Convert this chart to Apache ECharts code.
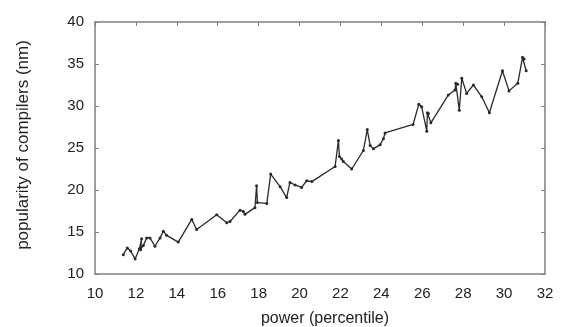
<!DOCTYPE html>
<html>
<head>
<meta charset="utf-8">
<script src="https://cdn.jsdelivr.net/npm/echarts@6/dist/echarts.min.js"></script>
<style>html,body{margin:0;padding:0;background:#fff}#c{width:562px;height:327px}</style>
</head>
<body>
<div id="c"></div>
<script>
const xTicks = [10,12,14,16,18,20,22,24,26,28,30,32];
const yTicks = [10,15,20,25,30,35,40];
const powerX = [11.38,11.58,11.74,11.96,12.17,12.28,12.23,12.36,12.53,12.69,12.93,13.18,13.34,13.5,14.07,14.73,14.97,15.95,16.44,16.6,17.09,17.25,17.33,17.82,17.9,17.94,18.4,18.59,19.05,19.37,19.53,19.78,20.1,20.35,20.6,21.74,21.9,21.95,22.06,22.14,22.55,23.12,23.31,23.45,23.61,23.94,24.1,24.18,25.55,25.83,25.97,26.22,26.25,26.3,26.42,27.27,27.6,27.64,27.73,27.81,27.93,28.17,28.5,28.91,29.28,29.92,30.24,30.67,30.9,30.98,31.08];
const popularity = [12.3,13.1,12.75,11.8,13.0,14.2,12.9,13.4,14.3,14.3,13.3,14.3,15.1,14.6,13.8,16.5,15.3,17.05,16.1,16.25,17.6,17.45,17.1,17.9,20.5,18.5,18.4,21.9,20.4,19.1,20.9,20.6,20.3,21.1,21.0,22.8,25.9,24.0,23.7,23.4,22.5,24.7,27.2,25.3,24.9,25.4,26.1,26.8,27.8,30.2,29.9,27.0,29.2,29.1,28.0,31.3,31.9,32.7,32.6,29.5,33.3,31.5,32.5,31.1,29.2,34.2,31.8,32.7,35.8,35.6,34.2];
const series = powerX.map((x,i)=>[x,popularity[i]]);
const chart = echarts.init(document.getElementById('c'));
const axisColor = '#808080';
chart.setOption({
  animation:false,
  grid:{left:95,right:17,top:22,bottom:53,containLabel:false,outerBoundsMode:'none'},
  xAxis:[{
    type:'value',min:10,max:32,interval:2,
    name:'power (percentile)',nameLocation:'middle',nameGap:37,
    nameTextStyle:{fontFamily:'Liberation Sans',fontSize:16,color:'#222',padding:[0,0,0,10]},
    axisLine:{lineStyle:{color:axisColor,width:1.5}},
    axisTick:{show:false},
    axisLabel:{fontFamily:'Liberation Sans',fontSize:15,color:'#222',margin:12,formatter:v=>xTicks.includes(v)?String(v):''},
    splitLine:{show:false}
  },{
    type:'value',position:'top',min:10,max:32,interval:2,
    axisLine:{show:true,lineStyle:{color:axisColor,width:1.5}},
    axisTick:{show:true,inside:true,length:4,lineStyle:{color:axisColor}},
    axisLabel:{show:false},splitLine:{show:false}
  }],
  yAxis:[{
    type:'value',min:10,max:40,interval:5,
    name:'popularity of compilers (nm)',nameLocation:'middle',nameGap:63,
    nameTextStyle:{fontFamily:'Liberation Sans',fontSize:17,color:'#222',padding:[0,0,0,6]},
    axisLine:{show:true,lineStyle:{color:axisColor,width:1.5}},
    axisTick:{show:true,inside:true,length:4,lineStyle:{color:axisColor}},
    axisLabel:{fontFamily:'Liberation Sans',fontSize:15,color:'#222',margin:11,formatter:v=>yTicks.includes(v)?String(v):''},
    splitLine:{show:false}
  },{
    type:'value',position:'right',min:10,max:40,interval:5,
    axisLine:{show:true,lineStyle:{color:axisColor,width:1.5}},
    axisTick:{show:true,inside:true,length:4,lineStyle:{color:axisColor}},
    axisLabel:{show:false},splitLine:{show:false}
  }],
  series:[{
    type:'line',data:series,xAxisIndex:0,yAxisIndex:0,
    symbol:'circle',symbolSize:3,
    lineStyle:{color:'#2a2a2a',width:1.3},
    itemStyle:{color:'#2a2a2a'}
  }]
});
</script>
</body>
</html>
